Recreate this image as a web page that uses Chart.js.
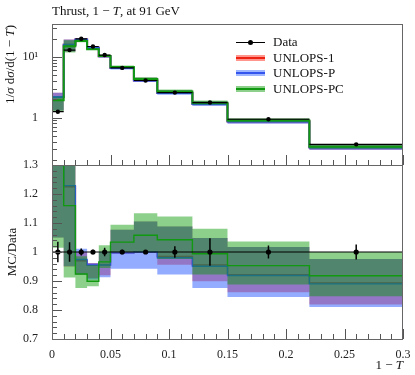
<!DOCTYPE html>
<html>
<head>
<meta charset="utf-8">
<script src="https://cdn.jsdelivr.net/npm/chart.js@4.4.1/dist/chart.umd.min.js"></script>
<style>
  body { margin: 0; background: #fff; }
  #wrap { position: relative; width: 415px; height: 375px; font-family: 'Liberation Serif', serif; color: #111; }
  #wrap canvas { position: absolute; left: 0; top: 0; }
  .lbl { position: absolute; white-space: nowrap; font-size: 13px; line-height: 16px; }
  .rot { transform-origin: 0 0; transform: rotate(-90deg); }
  .leg { position: absolute; left: 236px; height: 16px; font-size: 13px; line-height: 16px; white-space: nowrap; }
  .sw { position: absolute; left: 0; top: 5px; width: 29px; height: 6px; }
  .sw i { position: absolute; left: 0; right: 0; top: 2px; height: 2px; }
  .leg span.t { position: absolute; left: 37px; top: 0; }
</style>
</head>
<body>
<div id="wrap">
  <canvas id="main" width="415" height="375"></canvas>
  <canvas id="ratio" width="415" height="375"></canvas>

  <div class="lbl" style="left:52px;top:3px;">Thrust, 1 &minus; <i>T</i>, at 91 GeV</div>
  <div class="lbl rot" style="left:2px;top:155px;width:130px;text-align:right;">1/<i>&sigma;</i> d<i>&sigma;</i>/d(1 &minus; <i>T</i>)</div>
  <div class="lbl rot" style="left:4px;top:339px;width:174px;text-align:center;">MC/Data</div>
  <div class="lbl" style="right:12px;top:357px;">1 &minus; <i>T</i></div>

  <div class="leg" style="top:34px;">
    <div class="sw"><i style="background:#000;height:1px;top:2.5px;"></i><b style="position:absolute;left:12px;top:0.5px;width:5px;height:5px;border-radius:50%;background:#000;"></b></div>
    <span class="t">Data</span>
  </div>
  <div class="leg" style="top:49.5px;">
    <div class="sw" style="background:rgba(255,20,0,0.45);"><i style="background:#ee2211;"></i></div>
    <span class="t">UNLOPS-1</span>
  </div>
  <div class="leg" style="top:65px;">
    <div class="sw" style="background:rgba(40,90,255,0.45);"><i style="background:#3355ee;"></i></div>
    <span class="t">UNLOPS-P</span>
  </div>
  <div class="leg" style="top:80.5px;">
    <div class="sw" style="background:rgba(0,150,0,0.45);"><i style="background:#119911;"></i></div>
    <span class="t">UNLOPS-PC</span>
  </div>
</div>

<script>
// ── DATA ──────────────────────────────────────────────────────────────────────

var binEdges   = [0, 0.01, 0.02, 0.03, 0.04, 0.05, 0.07, 0.09, 0.12, 0.15, 0.22, 0.3];
var binCenters = [0.005, 0.015, 0.025, 0.035, 0.045, 0.06, 0.08, 0.105, 0.135, 0.185, 0.26];

// measured distribution
var dataVals  = [1.25, 12.9, 19.8, 14.8, 10.7, 6.58, 4.08, 2.58, 1.77, 0.94, 0.363];
var dataErr   = [0.044, 0.44, 0.24, 0.12, 0.16, 0.05, 0.024, 0.052, 0.083, 0.021, 0.0094];
var dataRatio = [1, 1, 1, 1, 1, 1, 1, 1, 1, 1, 1];
var ratioErr  = [0.035, 0.034, 0.012, 0.008, 0.015, 0.008, 0.006, 0.02, 0.047, 0.022, 0.026];

// UNLOPS-1 (red)
var un1Top     = [2.19, 15.8, 19.21, 14.13, 10.22, 6.56, 4.08, 2.54, 1.69, 0.867, 0.324];
var un1TopLo   = [1.31, 12.26, 18.26, 13.47, 9.84, 6.58, 4.08, 2.47, 1.59, 0.809, 0.297];
var un1TopHi   = [2.56, 19.35, 19.8, 14.24, 10.68, 7.09, 4.51, 2.81, 1.85, 0.956, 0.354];
var un1Ratio   = [1.75, 1.225, 0.97, 0.955, 0.955, 0.997, 1.0, 0.985, 0.955, 0.922, 0.893];
var un1RatioLo = [1.05, 0.95, 0.922, 0.91, 0.92, 1.0, 1.0, 0.956, 0.899, 0.861, 0.819];
var un1RatioHi = [2.05, 1.5, 1.0, 0.962, 0.998, 1.077, 1.105, 1.088, 1.048, 1.017, 0.976];

// UNLOPS-P (blue)
var unPTop     = [2.19, 15.85, 19.29, 14.13, 10.22, 6.56, 4.08, 2.53, 1.68, 0.864, 0.323];
var unPTopLo   = [1.31, 12.27, 18.26, 13.39, 9.77, 6.2, 3.84, 2.38, 1.55, 0.794, 0.294];
var unPTopHi   = [2.56, 19.35, 20.02, 14.24, 10.7, 7.09, 4.51, 2.81, 1.85, 0.956, 0.354];
var unPRatio   = [1.75, 1.229, 0.974, 0.955, 0.955, 0.997, 1.0, 0.98, 0.951, 0.919, 0.89];
var unPRatioLo = [1.05, 0.951, 0.922, 0.905, 0.913, 0.942, 0.942, 0.922, 0.876, 0.845, 0.81];
var unPRatioHi = [2.05, 1.5, 1.011, 0.962, 1.0, 1.077, 1.105, 1.088, 1.048, 1.017, 0.976];

// UNLOPS-PC (green)
var unPCTop     = [1.93, 14.96, 18.3, 13.31, 10.34, 6.8, 4.32, 2.69, 1.76, 0.896, 0.333];
var unPCTopLo   = [1.27, 11.76, 17.34, 13.05, 10.11, 6.57, 4.08, 2.52, 1.63, 0.835, 0.307];
var unPCTopHi   = [2.25, 18.7, 19.5, 14.13, 10.95, 7.2, 4.63, 2.89, 1.91, 0.974, 0.363];
var unPCRatio   = [1.54, 1.16, 0.924, 0.899, 0.966, 1.034, 1.058, 1.042, 0.994, 0.953, 0.918];
var unPCRatioLo = [1.015, 0.912, 0.876, 0.882, 0.945, 0.999, 0.999, 0.976, 0.922, 0.888, 0.847];
var unPCRatioHi = [1.8, 1.45, 0.985, 0.955, 1.023, 1.094, 1.134, 1.122, 1.08, 1.036, 1.0];

// ticks
var xMajorTicks = [0, 0.05, 0.1, 0.15, 0.2, 0.25, 0.3];
var xTickLabels = ['0', '0.05', '0.1', '0.15', '0.2', '0.25', '0.3'];
var xMinorTicks = [0.01, 0.02, 0.03, 0.04, 0.06, 0.07, 0.08, 0.09, 0.11, 0.12, 0.13, 0.14,
                   0.16, 0.17, 0.18, 0.19, 0.21, 0.22, 0.23, 0.24, 0.26, 0.27, 0.28, 0.29];

var logMajorTicks = [1, 10];
var logTickLabels = ['1', '10\u00b9'];
var logMinorTicks = [0.2, 0.3, 0.4, 0.5, 0.6, 0.7, 0.8, 0.9, 2, 3, 4, 5, 6, 7, 8, 9, 20, 30];

var ratioMajorTicks = [0.7, 0.8, 0.9, 1, 1.1, 1.2, 1.3];
var ratioTickLabels = ['0.7', '0.8', '0.9', '1', '1.1', '1.2', '1.3'];
var ratioMinorTicks = [0.72, 0.74, 0.76, 0.78, 0.82, 0.84, 0.86, 0.88, 0.92, 0.94, 0.96, 0.98,
                       1.02, 1.04, 1.06, 1.08, 1.12, 1.14, 1.16, 1.18, 1.22, 1.24, 1.26, 1.28];

// ── HELPERS ───────────────────────────────────────────────────────────────────

var RED = '#ee2211', RED_BAND = 'rgba(255,20,0,0.45)';
var BLUE = '#3355ee', BLUE_BAND = 'rgba(40,90,255,0.5)';
var GREEN = '#119911', GREEN_BAND = 'rgba(0,150,0,0.45)';
var FONT = "'Liberation Serif', 'Times New Roman', serif";

Chart.defaults.font.family = FONT;
Chart.defaults.font.size = 12;

// histogram outline: one point on each left edge, plus the closing right edge.
// stepped:true draws horizontal first, then the vertical at the next edge.
function stepPoints(vals) {
  var pts = [];
  for (var i = 0; i < vals.length; i++) pts.push({ x: binEdges[i], y: vals[i] });
  pts.push({ x: binEdges[binEdges.length - 1], y: vals[vals.length - 1] });
  return pts;
}

function xErrPoints(vals) {
  var pts = [];
  for (var i = 0; i < vals.length; i++) {
    pts.push({ x: binEdges[i], y: vals[i] });
    pts.push({ x: binEdges[i + 1], y: vals[i] });
    pts.push({ x: binEdges[i + 1], y: null });
  }
  return pts;
}

function yErrPoints(vals, errs) {
  var pts = [];
  for (var i = 0; i < vals.length; i++) {
    pts.push({ x: binCenters[i], y: vals[i] - errs[i] });
    pts.push({ x: binCenters[i], y: vals[i] + errs[i] });
    pts.push({ x: binCenters[i], y: null });
  }
  return pts;
}

function markerPoints(vals) {
  var pts = [];
  for (var i = 0; i < vals.length; i++) pts.push({ x: binCenters[i], y: vals[i] });
  return pts;
}

function lineDs(pts, color, width, order) {
  return { data: pts, showLine: true, stepped: true, borderColor: color, borderWidth: width,
           pointRadius: 0, fill: false, order: order };
}

function bandDs(lo, hi, color, order) {
  return [
    { data: stepPoints(hi), showLine: true, stepped: true, borderWidth: 0, pointRadius: 0,
      backgroundColor: color, fill: '+1', order: order },
    { data: stepPoints(lo), showLine: true, stepped: true, borderWidth: 0, pointRadius: 0,
      fill: false, order: order }
  ];
}

function dataDs(vals, errs, stepLine, radius) {
  var out = [];
  out.push({ data: stepLine ? stepPoints(vals) : xErrPoints(vals), showLine: true,
             stepped: stepLine, borderColor: '#000', borderWidth: 1.2,
             pointRadius: 0, spanGaps: false, order: 0 });
  out.push({ data: yErrPoints(vals, errs), showLine: true, borderColor: '#000', borderWidth: 1.5,
             pointRadius: 0, spanGaps: false, order: 0 });
  out.push({ data: markerPoints(vals), showLine: false, pointRadius: radius,
             pointBackgroundColor: '#000', pointBorderWidth: 0, order: 0 });
  return out;
}

// series stack: red band, red line, blue band, blue line, green band, green line (top)
function mcSets(r, rLo, rHi, p, pLo, pHi, pc, pcLo, pcHi, width) {
  return [lineDs(stepPoints(pc), GREEN, width, 1)]
    .concat(bandDs(pcLo, pcHi, GREEN_BAND, 2))
    .concat([lineDs(stepPoints(p), BLUE, width, 3)])
    .concat(bandDs(pLo, pHi, BLUE_BAND, 4))
    .concat([lineDs(stepPoints(r), RED, width, 5)])
    .concat(bandDs(rLo, rHi, RED_BAND, 6));
}

// inward ticks on the left and bottom edges, plus the frame
function frameTicks(xMajor, xMinor, yMajor, yMinor) {
  return {
    id: 'frameTicks',
    afterDraw: function(chart) {
      var ctx = chart.ctx, a = chart.chartArea;
      var xs = chart.scales.x, ys = chart.scales.y;
      ctx.save();
      ctx.strokeStyle = '#555';
      ctx.lineWidth = 1;
      ctx.beginPath();
      function vTick(v, len) {
        var px = Math.round(xs.getPixelForValue(v)) + 0.5;
        ctx.moveTo(px, a.bottom); ctx.lineTo(px, a.bottom - len);
      }
      function hTick(v, len) {
        var py = Math.round(ys.getPixelForValue(v)) + 0.5;
        ctx.moveTo(a.left, py); ctx.lineTo(a.left + len, py);
      }
      xMajor.forEach(function(v) { vTick(v, 10); });
      xMinor.forEach(function(v) { vTick(v, 5); });
      yMajor.forEach(function(v) { hTick(v, 10); });
      yMinor.forEach(function(v) { hTick(v, 5); });
      ctx.stroke();
      ctx.strokeStyle = '#666';
      ctx.strokeRect(a.left + 0.5, a.top + 0.5, a.right - a.left - 1, a.bottom - a.top);
      ctx.restore();
    }
  };
}

var baseOpts = {
  responsive: false,
  animation: false,
  events: [],
  plugins: { legend: { display: false }, tooltip: { enabled: false } }
};

// ── TOP PANEL ─────────────────────────────────────────────────────────────────

var topSets = dataDs(dataVals, dataErr, false, 2.2)
  .concat(mcSets(un1Top, un1TopLo, un1TopHi, unPTop, unPTopLo, unPTopHi,
                 unPCTop, unPCTopLo, unPCTopHi, 2));

new Chart(document.getElementById('main'), {
  type: 'scatter',
  data: { datasets: topSets },
  options: Object.assign({}, baseOpts, {
    layout: { padding: { left: 0, right: 12, top: 24, bottom: 210 } },
    scales: {
      x: { type: 'linear', min: 0, max: 0.3, display: false },
      y: {
        type: 'logarithmic', min: 0.166, max: 34.7,
        grid: { display: false }, border: { display: false },
        afterBuildTicks: function(s) { s.ticks = logMajorTicks.map(function(v) { return { value: v }; }); },
        afterFit: function(s) { s.width = 52; },
        ticks: {
          autoSkip: false, padding: 6, color: '#222', font: { family: FONT, size: 12 },
          callback: function(v, i) { return logTickLabels[i]; }
        }
      }
    }
  }),
  plugins: [frameTicks(xMajorTicks, xMinorTicks, logMajorTicks, logMinorTicks)]
});

// ── RATIO PANEL ───────────────────────────────────────────────────────────────

var ratioSets = dataDs(dataRatio, ratioErr, true, 2.6)
  .concat(mcSets(un1Ratio, un1RatioLo, un1RatioHi, unPRatio, unPRatioLo, unPRatioHi,
                 unPCRatio, unPCRatioLo, unPCRatioHi, 1.4));

new Chart(document.getElementById('ratio'), {
  type: 'scatter',
  data: { datasets: ratioSets },
  options: Object.assign({}, baseOpts, {
    layout: { padding: { left: 0, right: 12, top: 165, bottom: 0 } },
    scales: {
      x: {
        type: 'linear', min: 0, max: 0.3,
        grid: { display: false }, border: { display: false },
        afterBuildTicks: function(s) { s.ticks = xMajorTicks.map(function(v) { return { value: v }; }); },
        afterFit: function(s) { s.height = 36; },
        ticks: {
          autoSkip: false, maxRotation: 0, padding: 1, color: '#222', font: { family: FONT, size: 12 },
          callback: function(v, i) { return xTickLabels[i]; }
        }
      },
      y: {
        type: 'linear', min: 0.7, max: 1.3,
        grid: { display: false }, border: { display: false },
        afterBuildTicks: function(s) { s.ticks = ratioMajorTicks.map(function(v) { return { value: v }; }); },
        afterFit: function(s) { s.width = 52; },
        ticks: {
          autoSkip: false, padding: 6, color: '#222', font: { family: FONT, size: 12 },
          callback: function(v, i) { return ratioTickLabels[i]; }
        }
      }
    }
  }),
  plugins: [frameTicks(xMajorTicks, xMinorTicks, ratioMajorTicks, ratioMinorTicks)]
});
</script>
</body>
</html>
